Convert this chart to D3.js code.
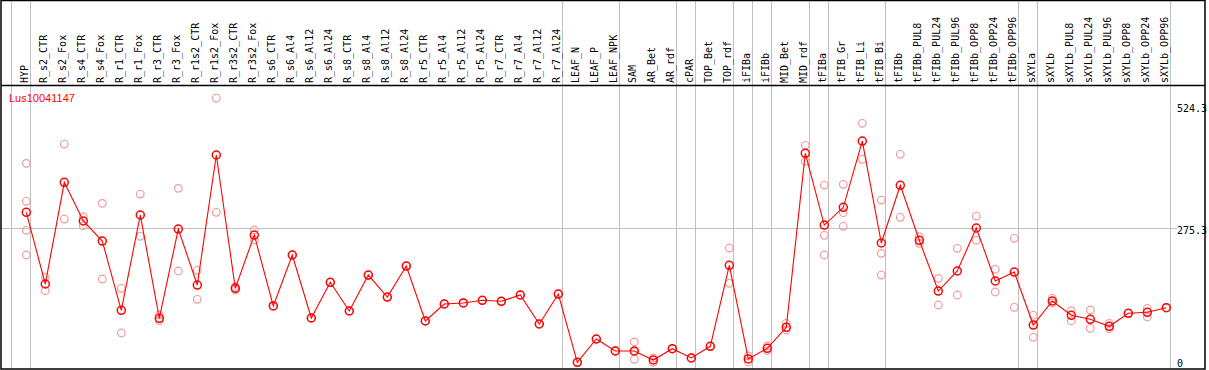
<!DOCTYPE html>
<html><head><meta charset="utf-8">
<script src="https://cdn.jsdelivr.net/npm/d3@7"></script>
<style>body{margin:0;background:#fff}svg{display:block}</style>
</head><body>
<script>
const title = "Lus10041147";
const categories = ["HYP","R_s2_CTR","R_s2_Fox","R_s4_CTR","R_s4_Fox","R_r1_CTR","R_r1_Fox","R_r3_CTR","R_r3_Fox","R_r1s2_CTR","R_r1s2_Fox","R_r3s2_CTR","R_r3s2_Fox","R_s6_CTR","R_s6_Al4","R_s6_Al12","R_s6_Al24","R_s8_CTR","R_s8_Al4","R_s8_Al12","R_s8_Al24","R_r5_CTR","R_r5_Al4","R_r5_Al12","R_r5_Al24","R_r7_CTR","R_r7_Al4","R_r7_Al12","R_r7_Al24","LEAF_N","LEAF_P","LEAF_NPK","SAM","AR_Bet","AR_rdf","cPAR","TOP_Bet","TOP_rdf","iFIBa","iFIBb","MID_Bet","MID_rdf","tFIBa","tFIB_Gr","tFIB_Li","tFIB_Bi","tFIBb","tFIBb_PUL8","tFIBb_PUL24","tFIBb_PUL96","tFIBb_OPP8","tFIBb_OPP24","tFIBb_OPP96","sXYLa","sXYLb","sXYLb_PUL8","sXYLb_PUL24","sXYLb_PUL96","sXYLb_OPP8","sXYLb_OPP24","sXYLb_OPP96"];
const means = [308.3,162.6,369.2,290.6,249.9,109.1,302.8,92.9,274.3,160.5,424.7,153.8,262.1,117.9,221.5,93.5,166.0,107.7,180.8,136.1,199.1,87.4,121.9,124.0,129.4,127.4,140.2,81.3,142.2,3.5,50.8,26.4,26.4,8.1,31.1,12.2,36.0,200.6,10.2,31.9,74.6,428.1,282.4,318.4,453.1,245.9,363.1,251.4,148.3,189.0,276.4,168.7,186.9,79.2,128.0,99.0,90.8,76.6,103.0,105.1,114.4];
const replicates = [
 [407.8,330.6,271.7,221.5],[176.2,149.0],[447.0,294.6],[299.3,281.0],[326.5,172.7],[153.8,63.0],[345.4,259.5],[99.6,88.0],[357.0,189.0],[190.4,131.5],[540.5,308.3],[157.1,150.4],[272.3,252.0],[117.9],[221.5],[93.5],[166.0],[107.7],[180.8],[136.1],[199.1],[87.4],[121.9],[124.0],[129.4],[127.4],[140.2],[81.3],[142.2],[3.5],[50.8],[26.4],
 [44.7,25.0,9.6],[3.5,12.2],[31.1],[12.2],[36.0],[235.7,164.0],[4.1,16.3],[36.6,27.0],[82.7,69.1],[444.4,411.9],[363.7,261.5,221.5],[365.2,307.4,279.8],[489.1,416.0],[333.2,224.9,180.8],[426.1,298.1],[258.7,245.3],[174.1,119.9],[235.1,140.2],[300.7,251.4],[192.4,146.3],[255.4,115.2],[99.0,54.3],[133.5,124.0],[108.3,88.0],[109.7,72.5],[82.7,71.7],[103.0],[113.2,95.5],[114.4]
];
const groupStarts = ["HYP","R_s2_CTR","LEAF_N","SAM","cPAR","TOP_Bet","iFIBa","iFIBb","MID_Bet","tFIBa","tFIB_Gr","tFIBb","sXYLa","sXYLb"];
const axisTicks = [524.3, 275.3, 0];
const refLine = 275.3;

const W = 1209, H = 370;
const svg = d3.select("body").append("svg").attr("width", W).attr("height", H);
const x = d3.scalePoint().domain(categories).range([26.3, 1166.3]);
const step = x.step();
const y = d3.scaleLinear().domain([0, 524.3]).range([364, 106]);

// separators
const sepX = groupStarts.map(c => x(c) - 15).concat([x(categories[categories.length-1]) + step - 15]);
svg.selectAll("line.sep").data(sepX).enter().append("line")
  .attr("x1", d => d).attr("x2", d => d).attr("y1", 0).attr("y2", 369)
  .attr("stroke", "#c0c0c0").attr("stroke-width", 1).attr("shape-rendering","crispEdges");
// reference line
svg.append("line").attr("x1", 1).attr("x2", 1177).attr("y1", y(refLine)).attr("y2", y(refLine))
  .attr("stroke", "#c0c0c0").attr("shape-rendering","crispEdges");

// frame
svg.append("rect").attr("x", 1).attr("y", 0.5).attr("width", 1204).attr("height", 368.5)
  .attr("fill", "none").attr("stroke", "#000").attr("stroke-width", 1.5);
svg.append("line").attr("x1", 1).attr("x2", 1205).attr("y1", 85.5).attr("y2", 85.5)
  .attr("stroke", "#000").attr("stroke-width", 1.5);

// category labels
svg.selectAll("text.cat").data(categories).enter().append("text")
  .attr("transform", d => `translate(${x(d)+1.5},83) rotate(-90)`)
  .attr("text-anchor", "start")
  .style("font-family", "DejaVu Sans Mono, monospace").style("font-size", "10px")
  .attr("fill", "#000").text(d => d);

// axis labels
svg.selectAll("text.ax").data(axisTicks).enter().append("text")
  .attr("x", 1177).attr("y", d => Math.min(y(d) + 2, 363))
  .attr("dominant-baseline", "central")
  .style("font-family", "DejaVu Sans Mono, monospace").style("font-size", "10px")
  .attr("fill", "#000").text(d => d);

// replicates
const reps = [];
replicates.forEach((arr, i) => arr.forEach(v => reps.push({c: categories[i], v})));
svg.selectAll("circle.rep").data(reps).enter().append("circle")
  .attr("cx", d => x(d.c)).attr("cy", d => y(d.v)).attr("r", 3.8)
  .attr("fill", "none").attr("stroke", "#f09a9a").attr("stroke-width", 1.2);

// line
const line = d3.line().x((d, i) => x(categories[i])).y(d => y(d));
svg.append("path").datum(means).attr("d", line).attr("fill", "none")
  .attr("stroke", "#ff0000").attr("stroke-width", 1.1);
svg.selectAll("circle.mean").data(means).enter().append("circle")
  .attr("cx", (d, i) => x(categories[i])).attr("cy", d => y(d)).attr("r", 4)
  .attr("fill", "none").attr("stroke", "#ff0000").attr("stroke-width", 1.5);

// title
svg.append("text").attr("x", 9).attr("y", 98).attr("dominant-baseline", "central")
  .style("font-family", "Liberation Sans, Arial, sans-serif").style("font-size", "11px")
  .attr("fill", "#ff0000").text(title);
</script>
</body></html>
